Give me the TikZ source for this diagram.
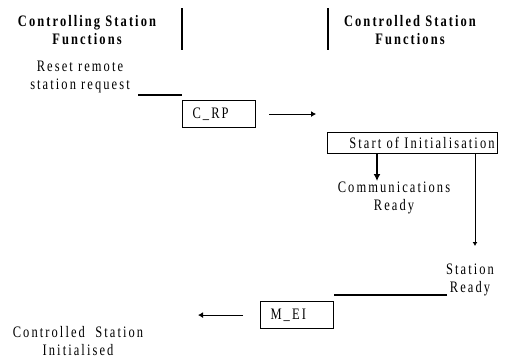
\documentclass[tikz,border=0pt]{standalone}
\usepackage{fontspec}
\setmainfont{Liberation Serif}[FakeStretch=0.78,LetterSpace=13]
\usetikzlibrary{positioning, arrows, arrows.meta}
\newcommand{\lbl}{\fontsize{16}{18}\selectfont}
\tikzset{
  box/.style={draw, line width=1.1pt, inner xsep=10pt, inner ysep=0pt,
    text width=53pt, align=left, minimum height=27pt, font=\lbl},
  txt/.style={align=center, inner sep=0pt, font=\lbl},
  hdr/.style={txt, font=\lbl\bfseries},
  msg/.style={line width=1.1pt, -{Latex[length=5pt,width=6pt]}}}

\begin{document}
\begin{tikzpicture}[x=1pt, y=-1pt, line width=1.1pt]
\useasboundingbox (0,0) rectangle (509,359);
% headings and the two separators
\node[hdr, anchor=north] (ctl) at (87,15) {Controlling Station\\Functions};
\node[hdr, anchor=north] (cld) at (410,15) {Controlled Station\\Functions};
\coordinate (l1) at (182,8);
\coordinate (l2) at (182,50);
\coordinate (r1) at (328,8);
\coordinate (r2) at (328,50);
\draw (l1) -- (l2);
\draw (r1) -- (r2);

% request
\node[txt, anchor=north] (req) at (80,60) {Reset remote\\station request};
\coordinate (rq) at (138,95);
\node[box, anchor=north west] (crp) at (182,100) {C\_RP};
\draw (rq) -- (rq -| crp.west);
\coordinate[right=13pt of crp.east] (a1);
\coordinate[right=47pt of a1] (a2);
\draw[msg] (a1) -- (a2);

% controlled station side
\node[draw, line width=1.1pt, anchor=north west, inner xsep=3pt, inner ysep=0pt,
  text width=164pt, align=right, minimum height=21pt, font=\lbl]
  (ini) at (327,132) {Start of Initialisation};
\coordinate (cr) at (377,181);
\draw[line width=1.8pt, -{Latex[length=7pt,width=7pt]}] (ini.south -| cr) -- (cr);
\node[txt, anchor=north] (com) at (394,181) {Communications\\Ready};
\coordinate (sr) at (475,246);
\draw[line width=0.9pt, -{Latex[length=4pt,width=5pt]}] (ini.south -| sr) -- (sr);
\node[txt, anchor=north] (rdy) at (470,263) {Station\\Ready};

% confirmation
\node[box, anchor=north west] (mei) at (260,301) {M\_EI};
\coordinate (rd) at (447,295);
\draw (rd) -- (rd -| mei.east);
\coordinate[left=17pt of mei.west] (a3);
\coordinate[left=45pt of a3] (a4);
\draw[msg] (a3) -- (a4);
\node[txt, anchor=north] (don) at (78,326) {Controlled~~Station\\Initialised};
\end{tikzpicture}
\end{document}
